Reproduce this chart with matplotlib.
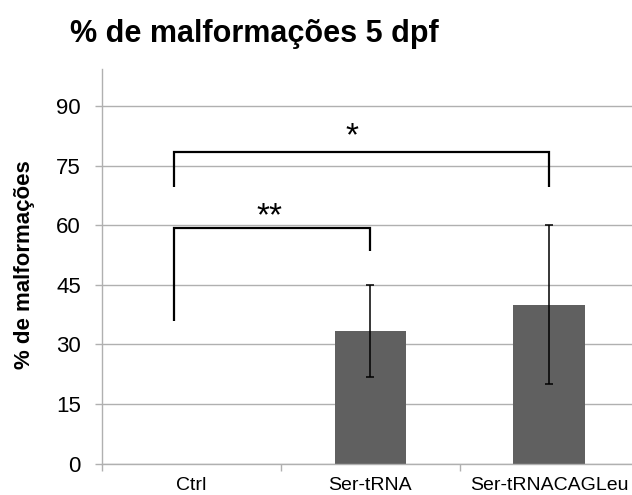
import matplotlib
matplotlib.use("Agg")
import matplotlib.pyplot as plt
import numpy as np

plt.rcParams['font.family'] = ['Liberation Sans', 'DejaVu Sans']

# data
categories = ["Ctrl", "Ser-tRNA", "Ser-tRNACAGLeu"]
values = [0, 33.33, 40.0]
errors = [0, 11.67, 20.0]
yticks = [0, 15, 30, 45, 60, 75, 90]
title = "% de malformações 5 dpf"
ylabel = "% de malformações"

# significance brackets: (x_left, x_right, y_top, y_left_bottom, y_right_bottom, label, label_x, label_y)
brackets = [
    (-0.097, 1.0, 59.4, 35.9, 53.6, "**", 0.434, 62.1),
    (-0.097, 2.0, 78.3, 69.7, 69.7, "*", 0.899, 82.3),
]

W, H = 632, 495
fig = plt.figure(figsize=(W / 100, H / 100), dpi=100)
ax_left, ax_right, ax_bottom, ax_top = 102.3, 638.3, 463.5, 69.0
ax = fig.add_axes([ax_left / W, (H - ax_bottom) / H, (ax_right - ax_left) / W, (ax_bottom - ax_top) / H])

grid_col = '#b0b0b0'
x = np.arange(len(categories))
ax.set_axisbelow(True)
ax.yaxis.grid(True, color=grid_col, lw=1.0)
ax.bar(x, values, width=0.40, color='#606060', zorder=2)
ax.errorbar(x[1:], values[1:], yerr=errors[1:], fmt='none', ecolor='black',
            elinewidth=1.1, capsize=3.2, capthick=1.1, zorder=3)

ax.set_xlim(-0.5, len(categories) - 0.5)
ax.set_ylim(0, 99.3)
ax.set_yticks(yticks)
ax.set_yticklabels([str(v) for v in yticks], fontsize=16)
ax.set_xticks(x)
ax.set_xticklabels(categories, fontsize=14)
ax.set_xticks(np.arange(-0.5, len(categories) - 0.5, 1.0), minor=True)
ax.tick_params(axis='x', which='major', length=0, pad=9.5)
ax.tick_params(axis='x', which='minor', length=4.8, color=grid_col, width=1)
ax.tick_params(axis='y', length=5, color=grid_col, width=1, pad=10.5)

for s in ['top', 'right']:
    ax.spines[s].set_visible(False)
for s in ['left', 'bottom']:
    ax.spines[s].set_color(grid_col)
    ax.spines[s].set_linewidth(1.0)

for xl, xr, yt, ylb, yrb, lab, lx, ly in brackets:
    ax.plot([xl, xl, xr, xr], [ylb, yt, yt, yrb], color='black', lw=1.6,
            solid_joinstyle='miter', solid_capstyle='butt', zorder=4, clip_on=False)
    ax.text(lx, ly, lab, ha='center', va='center', fontsize=24, zorder=5)

fig.text(70 / W, 1 - 42.3 / H, title, fontsize=22, fontweight='bold', ha='left', va='baseline')
fig.text(24.5 / W, 1 - 265 / H, ylabel, fontsize=16, fontweight='bold', rotation=90,
         ha='center', va='center')

fig.savefig("out.png", dpi=100)
